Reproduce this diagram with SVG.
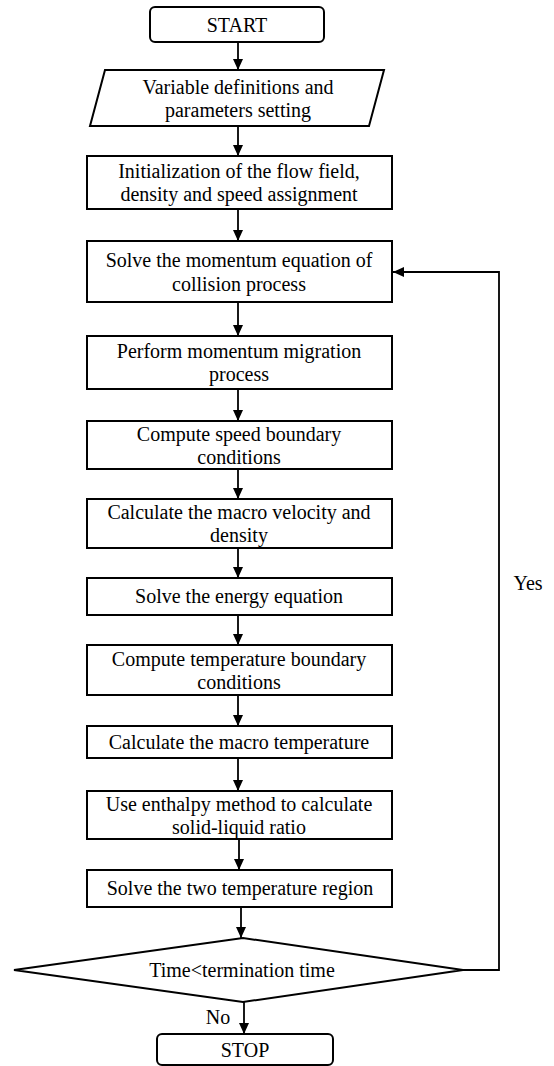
<svg xmlns="http://www.w3.org/2000/svg" width="554" height="1066" viewBox="0 0 554 1066">
<defs>
<marker id="ah" markerWidth="12" markerHeight="12" refX="11" refY="6" orient="auto" markerUnits="userSpaceOnUse">
<path d="M0,1 L11,6 L0,11 Z" fill="#000"/>
</marker>
<style>
.n{fill:#fff;stroke:#000;stroke-width:2}
.t{font-family:"Liberation Serif","Times New Roman",serif;font-size:20px;fill:#000;text-anchor:middle}
.c{fill:none;stroke:#000;stroke-width:1.8}
</style>
</defs>
<rect width="554" height="1066" fill="#fff"/>
<g id="connectors">
<line class="c" x1="238" y1="42" x2="238" y2="70" marker-end="url(#ah)"/>
<line class="c" x1="238" y1="126" x2="238" y2="156" marker-end="url(#ah)"/>
<line class="c" x1="238" y1="209" x2="238" y2="241" marker-end="url(#ah)"/>
<line class="c" x1="238" y1="302" x2="238" y2="336" marker-end="url(#ah)"/>
<line class="c" x1="238" y1="389" x2="238" y2="421" marker-end="url(#ah)"/>
<line class="c" x1="238" y1="469" x2="238" y2="499" marker-end="url(#ah)"/>
<line class="c" x1="238" y1="548" x2="238" y2="578" marker-end="url(#ah)"/>
<line class="c" x1="238" y1="615" x2="238" y2="645" marker-end="url(#ah)"/>
<line class="c" x1="238" y1="695" x2="238" y2="726" marker-end="url(#ah)"/>
<line class="c" x1="238" y1="758" x2="238" y2="791" marker-end="url(#ah)"/>
<line class="c" x1="239" y1="839" x2="239" y2="870" marker-end="url(#ah)"/>
<line class="c" x1="241" y1="907" x2="241" y2="938" marker-end="url(#ah)"/>
<line class="c" x1="244" y1="1002" x2="244" y2="1034" marker-end="url(#ah)"/>
<polyline class="c" points="463,970 499,970 499,272 393,272" marker-end="url(#ah)"/>
<text class="t" x="528" y="590">Yes</text>
<text class="t" x="218" y="1024">No</text>
</g>
<g id="start">
<rect class="n" x="150" y="7" width="174" height="35" rx="5"/>
<text class="t" x="237" y="32">START</text>
</g>
<g id="vardef">
<polygon class="n" points="105,70 384,70 369,126 90,126"/>
<text class="t" x="238" y="94">Variable definitions and</text>
<text class="t" x="238" y="117">parameters setting</text>
</g>
<g id="init">
<rect class="n" x="87" y="156" width="305" height="53"/>
<text class="t" x="239" y="178">Initialization of the flow field,</text>
<text class="t" x="239" y="201">density and speed assignment</text>
</g>
<g id="momentum">
<rect class="n" x="87" y="241" width="305" height="61"/>
<text class="t" x="239" y="267">Solve the momentum equation of</text>
<text class="t" x="239" y="291">collision process</text>
</g>
<g id="migration">
<rect class="n" x="87" y="336" width="305" height="53"/>
<text class="t" x="239" y="358">Perform momentum migration</text>
<text class="t" x="239" y="381">process</text>
</g>
<g id="speedbc">
<rect class="n" x="87" y="421" width="305" height="48"/>
<text class="t" x="239" y="441">Compute speed boundary</text>
<text class="t" x="239" y="464">conditions</text>
</g>
<g id="velocity">
<rect class="n" x="87" y="499" width="305" height="49"/>
<text class="t" x="239" y="519">Calculate the macro velocity and</text>
<text class="t" x="239" y="542">density</text>
</g>
<g id="energy">
<rect class="n" x="87" y="578" width="305" height="37"/>
<text class="t" x="239" y="603">Solve the energy equation</text>
</g>
<g id="tempbc">
<rect class="n" x="87" y="645" width="305" height="50"/>
<text class="t" x="239" y="666">Compute temperature boundary</text>
<text class="t" x="239" y="689">conditions</text>
</g>
<g id="macrotemp">
<rect class="n" x="87" y="726" width="305" height="32"/>
<text class="t" x="239" y="749">Calculate the macro temperature</text>
</g>
<g id="enthalpy">
<rect class="n" x="87" y="791" width="305" height="48"/>
<text class="t" x="239" y="811">Use enthalpy method to calculate</text>
<text class="t" x="239" y="834">solid-liquid ratio</text>
</g>
<g id="tworegion">
<rect class="n" x="87" y="870" width="305" height="37"/>
<text class="t" x="240" y="895">Solve the two temperature region</text>
</g>
<g id="decision">
<polygon class="n" points="14,970 243,938 463,970 243,1002"/>
<text class="t" x="242" y="977">Time&lt;termination time</text>
</g>
<g id="stop">
<rect class="n" x="157" y="1034" width="176" height="31" rx="5"/>
<text class="t" x="245" y="1057">STOP</text>
</g>
</svg>
